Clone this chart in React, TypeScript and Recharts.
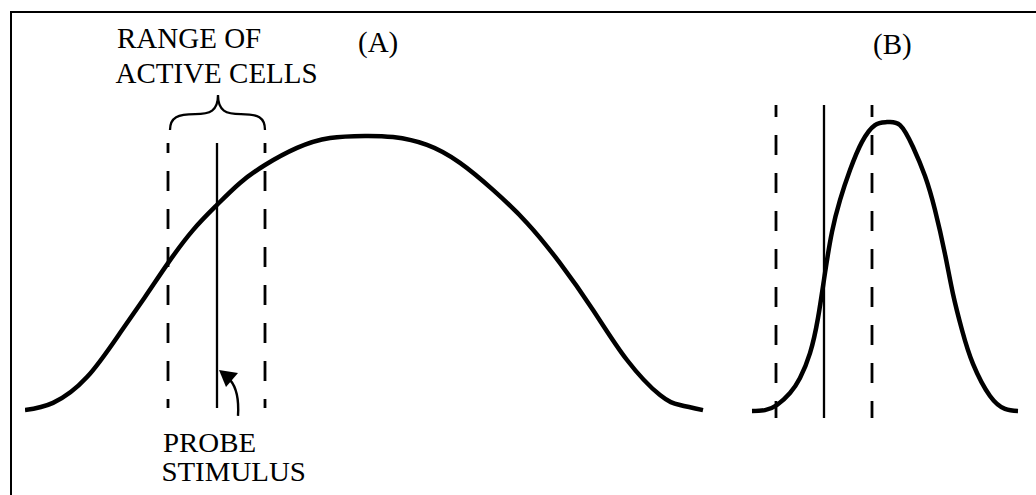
import React from 'react';
import { ComposedChart, Line, XAxis, YAxis, ReferenceLine, ReferenceDot } from 'recharts';

// Stimulus position (0-100) and response (0-100)
const positionA = [0, 2.8, 6.2, 9.5, 12, 14.3, 16.8, 19.2, 21.5, 24, 27.2, 30.5, 34, 36.8, 40.2, 43.5, 46.8, 50.2, 53.5, 56.8, 60.2, 63.5, 65.5, 67.8];
const responseA = [0.3, 2.7, 11.3, 26, 38, 49.3, 60.3, 68.7, 76, 82, 87.7, 91, 91.7, 91.3, 88.7, 82.7, 73.7, 62.7, 49.3, 33.7, 17, 5.3, 2, 0.3];

const positionB = [72.7, 74.0, 75.2, 76.5, 77.5, 78.5, 79.3, 80.0, 80.7, 81.5, 82.5, 83.7, 85.0, 86.2, 87.5, 88.8, 90.0, 91.0, 92.0, 92.8, 93.7, 94.8, 96.5, 98.0, 99.3];
const responseB = [0, 0.3, 2, 6, 11, 19.3, 31, 46, 59.7, 70.3, 80.3, 89.7, 95.3, 96.3, 95.3, 88, 78.3, 67, 52.3, 39, 27, 15.7, 5, 0.7, 0];

const dataA = positionA.map((x, i) => ({ x, r: responseA[i] }));
const dataB = positionB.map((x, i) => ({ x, r: responseB[i] }));

// Range of active cells (low edge, probe, high edge) and vertical extent
const rangeA = { low: 14.3, probe: 19.2, high: 24.0, top: 89.3, bottom: 1 };
const rangeB = { low: 75.1, probe: 79.9, high: 84.7, top: 102, bottom: -2.3 };

const labels = [
  { lines: ['RANGE OF', 'ACTIVE CELLS'], x: 9.2, y: 121, gap: 35, size: 29, sx: 1 },
  { lines: ['(A)'], x: 33.3, y: 119.7, gap: 0, size: 29, sx: 1 },
  { lines: ['(B)'], x: 84.8, y: 119, gap: 0, size: 29, sx: 1 },
  { lines: ['PROBE', 'STIMULUS'], x: 13.8, y: -13.5, gap: 30, size: 27, sx: 1.07 },
];

const braceAnchor = { x: 19.3, y: 105.3 };
const arrowAnchor = { x: 19.4, y: 13.7 };

const FONT = '"Liberation Serif", "Times New Roman", serif';

const textShape = (lines: string[], gap: number, size: number, sx: number) => (props: any) => (
  <g transform={`translate(${props.cx},${props.cy}) scale(${sx},1)`}>
    <text x={0} y={0} fontFamily={FONT} fontSize={size} fill="#000">
      {lines.map((t, i) => (
        <tspan key={t} x={i === 0 ? 0 : -1.5} dy={i === 0 ? 0 : gap}>
          {t}
        </tspan>
      ))}
    </text>
  </g>
);

const braceShape = (props: any) => {
  const { cx, cy } = props;
  return (
    <g transform={`translate(${cx},${cy})`}>
      <path
        d="M-48,35 C-48,22 -40,19 -23,19 C-8,19 0,16 0,0 C0,16 8,19 23,19 C40,19 47,22 47,35"
        fill="none"
        stroke="#000"
        strokeWidth={2.3}
      />
    </g>
  );
};

const arrowShape = (props: any) => {
  const { cx, cy } = props;
  return (
    <g transform={`translate(${cx},${cy})`}>
      <path d="M19,46 C20,30 18,18 11,10" fill="none" stroke="#000" strokeWidth={2.4} />
      <path d="M0,0 L19,3 L7,17 Z" fill="#000" />
    </g>
  );
};

const dashProps = { stroke: '#000', strokeWidth: 2.8, strokeDasharray: '20 18' };

export default function App() {
  return (
    <div style={{ position: 'absolute', left: 0, top: 0, width: 1036, height: 495, overflow: 'hidden', background: '#fff' }}>
      <div
        style={{
          position: 'absolute',
          left: 9.5,
          top: 10.5,
          width: 1200,
          height: 700,
          border: '2.6px solid #000',
          boxSizing: 'border-box',
        }}
      />
      <div style={{ position: 'absolute', left: 0, top: 0 }}>
        <ComposedChart width={1036} height={495} margin={{ top: 81, right: 11, bottom: 54, left: 25 }}>
          <XAxis dataKey="x" type="number" domain={[0, 100]} hide allowDataOverflow />
          <YAxis type="number" domain={[-10, 110]} hide allowDataOverflow />

          {[rangeA, rangeB].map((rg, i) => (
            <React.Fragment key={i}>
              <ReferenceLine
                segment={[{ x: rg.low, y: rg.top }, { x: rg.low, y: rg.bottom }]}
                ifOverflow="visible"
                {...dashProps}
                strokeDashoffset={i === 0 ? 10 : 8}
              />
              <ReferenceLine
                segment={[{ x: rg.probe, y: rg.top }, { x: rg.probe, y: rg.bottom }]}
                ifOverflow="visible"
                stroke="#000"
                strokeWidth={2.3}
              />
              <ReferenceLine
                segment={[{ x: rg.high, y: rg.top }, { x: rg.high, y: rg.bottom }]}
                ifOverflow="visible"
                {...dashProps}
                strokeDashoffset={i === 0 ? 10 : 8}
              />
            </React.Fragment>
          ))}

          <Line data={dataA} dataKey="r" type="natural" stroke="#000" strokeWidth={4.5} dot={false} activeDot={false} isAnimationActive={false} />
          <Line data={dataB} dataKey="r" type="natural" stroke="#000" strokeWidth={4.5} dot={false} activeDot={false} isAnimationActive={false} />

          <ReferenceDot x={braceAnchor.x} y={braceAnchor.y} r={0} ifOverflow="visible" shape={braceShape} />
          <ReferenceDot x={arrowAnchor.x} y={arrowAnchor.y} r={0} ifOverflow="visible" shape={arrowShape} />
          {labels.map((l) => (
            <ReferenceDot key={l.lines[0]} x={l.x} y={l.y} r={0} ifOverflow="visible" shape={textShape(l.lines, l.gap, l.size, l.sx)} />
          ))}
        </ComposedChart>
      </div>
    </div>
  );
}
